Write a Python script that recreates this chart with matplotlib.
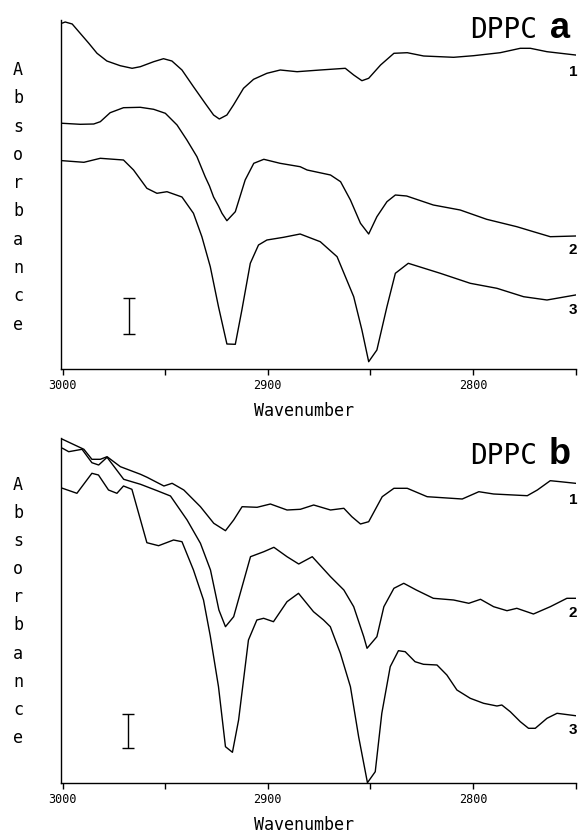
import matplotlib
matplotlib.use("Agg")
import matplotlib.pyplot as plt

# ---------------- Panel a data (wavenumber, absorbance in arbitrary offset units) ----------------
a1_wn = [3000, 2998.7, 2995.3, 2991.4, 2987.2, 2983.2, 2978.4, 2971.9, 2966.1, 2962.1, 2955.6, 2950.8,
         2946.7, 2941.8, 2936.2, 2930.5, 2926.4, 2923.6, 2919.9, 2916.7, 2911.8, 2906.9, 2900.4, 2893.9,
         2885.7, 2874.4, 2862.2, 2858.1, 2854.1, 2850.8, 2845, 2838.5, 2832, 2824, 2809.4, 2799.7,
         2786.7, 2776.9, 2772, 2763.9, 2750]
a1_abs = [3.46, 3.47, 3.45, 3.357, 3.257, 3.157, 3.08, 3.033, 3.007, 3.023, 3.073, 3.103,
          3.08, 2.99, 2.823, 2.657, 2.54, 2.50, 2.54, 2.64, 2.807, 2.897, 2.957, 2.99,
          2.973, 2.99, 3.007, 2.94, 2.883, 2.907, 3.04, 3.157, 3.163, 3.13, 3.117, 3.133,
          3.163, 3.207, 3.207, 3.173, 3.14]

a2_wn = [3000, 2991.4, 2984.8, 2981.6, 2976.8, 2970.3, 2962.1, 2955.6, 2949.9, 2944.2, 2939.4, 2934.5,
         2930.5, 2928.4, 2926.4, 2924.0, 2922.3, 2919.9, 2915.8, 2911, 2906.8, 2901.9, 2894, 2884.2,
         2880.8, 2869.4, 2864.5, 2859.7, 2854.8, 2850.8, 2846.8, 2841.9, 2837.8, 2832.3, 2819.3, 2806.2,
         2793.3, 2778.6, 2770.5, 2762.3, 2750]
a2_abs = [2.457, 2.447, 2.45, 2.473, 2.563, 2.613, 2.617, 2.597, 2.557, 2.44, 2.29, 2.123,
          1.923, 1.83, 1.72, 1.63, 1.557, 1.483, 1.573, 1.89, 2.057, 2.097, 2.057, 2.023,
          1.99, 1.94, 1.873, 1.69, 1.457, 1.35, 1.523, 1.673, 1.74, 1.73, 1.64, 1.59,
          1.497, 1.423, 1.373, 1.323, 1.33]

a3_wn = [3000, 2989.6, 2981.6, 2970.3, 2965.4, 2958.9, 2954, 2949.1, 2941.8, 2936.2, 2932.1, 2928,
         2924, 2919.9, 2915.8, 2912.6, 2908.5, 2904.5, 2900.4, 2892.3, 2884.2, 2874.4, 2866.2, 2858.1,
         2854.1, 2850.8, 2846.8, 2841.9, 2837.8, 2831.5, 2815.9, 2801.3, 2788.3, 2775.3, 2763.9, 2750]
a3_abs = [2.083, 2.067, 2.107, 2.09, 1.99, 1.807, 1.757, 1.773, 1.72, 1.557, 1.323, 1.023,
          0.623, 0.25, 0.247, 0.59, 1.057, 1.24, 1.29, 1.317, 1.35, 1.273, 1.123, 0.723,
          0.39, 0.073, 0.19, 0.623, 0.957, 1.057, 0.957, 0.857, 0.807, 0.723, 0.69, 0.74]

# ---------------- Panel b data ----------------
b1_wn = [3000, 2989.6, 2985.7, 2981.6, 2978.3, 2971.8, 2962, 2958.8, 2950.6, 2946.6, 2940.9, 2932.8,
         2926.3, 2920.6, 2916.6, 2912.5, 2905.2, 2898.7, 2890.6, 2884.1, 2877.6, 2869.4, 2862.9, 2859,
         2854.8, 2850.8, 2844.2, 2838.5, 2832, 2822.3, 2805.2, 2797.1, 2789.9, 2773.5, 2768.6, 2762.3,
         2757.4, 2750]
b1_abs = [3.437, 3.337, 3.237, 3.237, 3.263, 3.163, 3.087, 3.057, 2.97, 2.997, 2.93, 2.763,
          2.597, 2.523, 2.63, 2.763, 2.757, 2.79, 2.73, 2.737, 2.78, 2.73, 2.747, 2.663,
          2.59, 2.613, 2.863, 2.947, 2.947, 2.863, 2.84, 2.913, 2.89, 2.873, 2.93, 3.023,
          3.013, 2.997]

b2_wn = [3000, 2997, 2990.5, 2985.7, 2982.4, 2978.3, 2970.2, 2962, 2953.9, 2947.4, 2939.3, 2932.8,
         2927.9, 2923.8, 2920.6, 2916.6, 2908.4, 2901.9, 2897, 2890.6, 2884.9, 2878.3, 2869.4, 2862.9,
         2858.1, 2853.2, 2851.6, 2846.8, 2843.4, 2838.5, 2833.7, 2827.6, 2819.3, 2809.4, 2802, 2796.3,
         2789.9, 2783.4, 2778.6, 2770.5, 2762.3, 2754.2, 2750]
b2_abs = [3.347, 3.313, 3.337, 3.203, 3.18, 3.257, 3.037, 2.987, 2.923, 2.87, 2.63, 2.397,
          2.13, 1.73, 1.563, 1.663, 2.263, 2.313, 2.357, 2.263, 2.19, 2.263, 2.063, 1.93,
          1.763, 1.463, 1.347, 1.463, 1.763, 1.947, 1.997, 1.93, 1.847, 1.83, 1.797, 1.837,
          1.763, 1.723, 1.747, 1.69, 1.763, 1.847, 1.847]

b3_wn = [3000, 2993, 2985.7, 2982.5, 2977.6, 2973.5, 2970.3, 2966.2, 2958.9, 2953.2, 2945.9, 2941.8,
         2936.2, 2931.3, 2928, 2924, 2920.6, 2917.2, 2914.2, 2909.4, 2905.3, 2902, 2897.2, 2890.6,
         2885, 2877.7, 2872.8, 2869.5, 2864.6, 2859.7, 2855.7, 2851.4, 2847.6, 2844.4, 2840.3, 2836.3,
         2833, 2828.2, 2824.1, 2817.5, 2812.7, 2807.8, 2801.3, 2794.8, 2788.3, 2785.9, 2781.8, 2776.9,
         2772.9, 2769.6, 2763.9, 2759, 2750]
b3_abs = [2.947, 2.897, 3.097, 3.08, 2.93, 2.897, 2.97, 2.937, 2.403, 2.373, 2.43, 2.413,
          2.13, 1.83, 1.47, 0.963, 0.363, 0.307, 0.63, 1.43, 1.63, 1.647, 1.613, 1.813,
          1.897, 1.713, 1.63, 1.563, 1.297, 0.963, 0.463, 0.003, 0.113, 0.697, 1.163, 1.323,
          1.313, 1.213, 1.187, 1.18, 1.08, 0.93, 0.847, 0.797, 0.77, 0.78, 0.713, 0.613,
          0.547, 0.547, 0.647, 0.697, 0.673]

# tick labels
tick_vals = [3000, 2950, 2900, 2850, 2800, 2750]
tick_labels = ["3000", "", "2900", "", "2800", ""]

# scale bars (wavenumber, low, high)
bar_a = (2967.5, 0.35, 0.71)
bar_b = (2968.0, 0.35, 0.69)

W, H = 581, 833
fig = plt.figure(figsize=(W / 100, H / 100), dpi=100)
fig.patch.set_facecolor("white")

mono = "DejaVu Sans Mono"


def style_axes(ax, ylim_top):
    ax.set_xlim(3001, 2750)
    ax.set_ylim(0, ylim_top)
    for s in ("top", "right"):
        ax.spines[s].set_visible(False)
    for s in ("left", "bottom"):
        ax.spines[s].set_linewidth(1.0)
    ax.set_yticks([])
    ax.set_xticks(tick_vals)
    ax.set_xticklabels(tick_labels, fontfamily=mono, fontsize=8.5)
    ax.tick_params(axis="x", direction="out", length=4, width=1, pad=3)
    ax.patch.set_alpha(0)


def to_fig(px, py):
    return px / W, 1 - py / H


panels = [
    dict(pos=[60.5 / W, 1 - 369 / H, (575.5 - 60.5) / W, (369 - 20) / H], ytop=3.49,
         curves=[(a1_wn, a1_abs), (a2_wn, a2_abs), (a3_wn, a3_abs)], bar=bar_a,
         letter="a", title_y=30, label_y=[72, 250, 310], abs_y0=70, abs_step=28.3, wn_base=416),
    dict(pos=[60.5 / W, 1 - 783 / H, (575.5 - 60.5) / W, (783 - 438) / H], ytop=3.45,
         curves=[(b1_wn, b1_abs), (b2_wn, b2_abs), (b3_wn, b3_abs)], bar=bar_b,
         letter="b", title_y=456, label_y=[500, 613, 730], abs_y0=485, abs_step=28.1, wn_base=830),
]

for p in panels:
    ax = fig.add_axes(p["pos"])
    style_axes(ax, p["ytop"])
    for wn, ab in p["curves"]:
        ax.plot(wn, ab, color="black", lw=1.0, solid_joinstyle="round")
    bx, blo, bhi = p["bar"]
    ax.errorbar([bx], [(blo + bhi) / 2], yerr=[(bhi - blo) / 2], color="black",
                lw=1.0, capsize=4, capthick=1.0, fmt="none")
    # axis label "Wavenumber"
    fx, fy = to_fig(304, p["wn_base"])
    fig.text(fx, fy, "Wavenumber", fontfamily=mono, fontsize=12, ha="center", va="baseline")
    # vertical "Absorbance"
    for i, ch in enumerate("Absorbance"):
        fx, fy = to_fig(18, p["abs_y0"] + i * p["abs_step"])
        fig.text(fx, fy, ch, fontfamily=mono, fontsize=12, ha="center", va="center")
    # title DPPC + letter
    fx, fy = to_fig(537, p["title_y"])
    fig.text(fx, fy, "DPPC", fontfamily=mono, fontsize=20, ha="right", va="center")
    fx, fy = to_fig(560, p["title_y"] - 1)
    fig.text(fx, fy, p["letter"], fontfamily="Liberation Sans", fontweight="bold",
             fontsize=26, ha="center", va="center")
    # curve numbers
    for num, ly in zip(["1", "2", "3"], p["label_y"]):
        fx, fy = to_fig(573, ly)
        fig.text(fx, fy, num, fontfamily="Liberation Sans", fontweight="bold",
                 fontsize=11, ha="center", va="center")

fig.savefig("out.png", dpi=100, facecolor="white")
